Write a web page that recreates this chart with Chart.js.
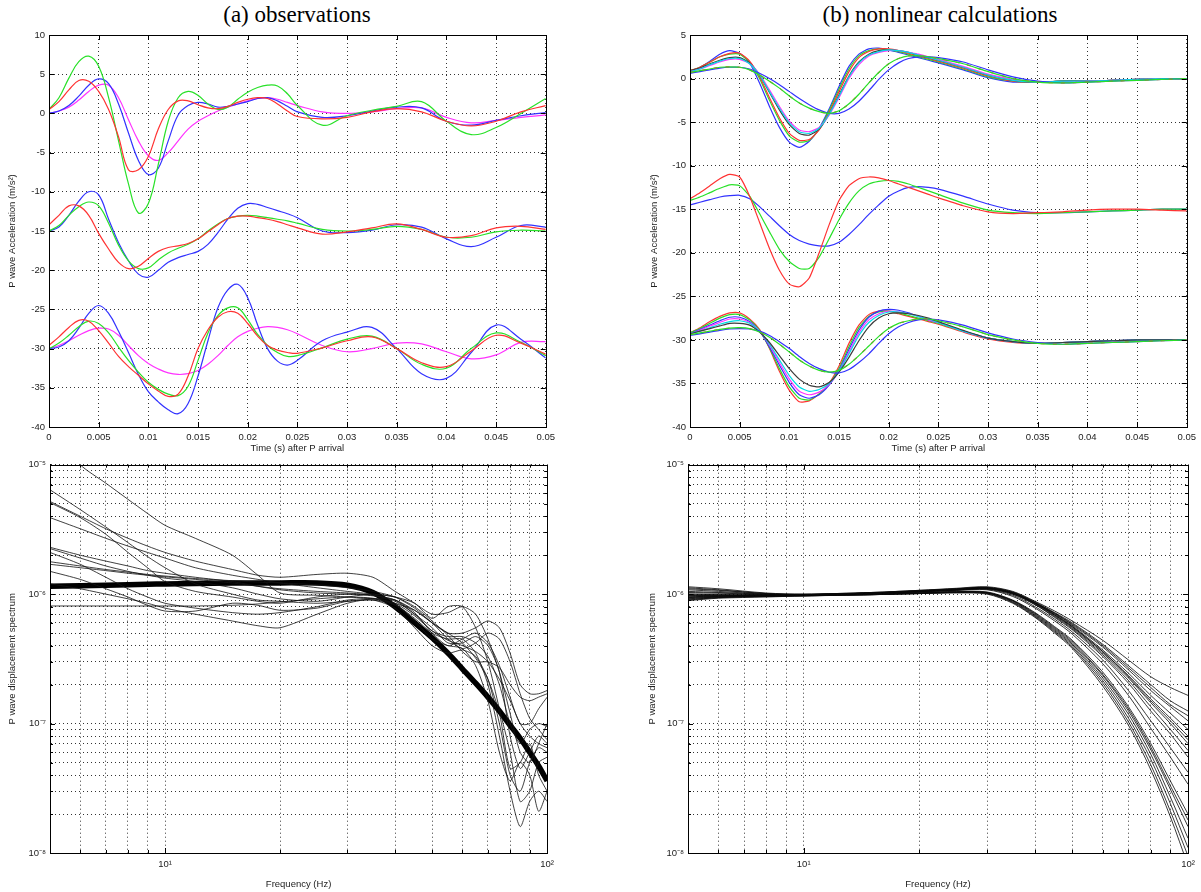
<!DOCTYPE html>
<html>
<head>
<meta charset="utf-8">
<script src="https://cdn.jsdelivr.net/npm/chart.js@4.4.0/dist/chart.umd.min.js"></script>
<style>
  body { margin: 0; background: #fff; width: 1201px; height: 892px; position: relative; overflow: hidden; }
  canvas { position: absolute; }
  .ttl { position: absolute; font-family: "Liberation Serif", "Times New Roman", serif; font-size: 23px; color: #000; white-space: nowrap; transform: translateX(-50%); }
</style>
</head>
<body>
<div class="ttl" style="left:297px;top:2px">(a) observations</div>
<div class="ttl" style="left:940px;top:2px">(b) nonlinear calculations</div>
<canvas id="accObs"></canvas>
<canvas id="accSim"></canvas>
<canvas id="specObs"></canvas>
<canvas id="specSim"></canvas>
<script>
// time samples (s) shared by all acceleration traces
const tGrid = [0, 0.001, 0.002, 0.003, 0.004, 0.005, 0.006, 0.007, 0.008, 0.009, 0.010, 0.011, 0.012, 0.013,
  0.014, 0.015, 0.016, 0.017, 0.018, 0.019, 0.020, 0.021, 0.022, 0.023, 0.024, 0.025,
  0.0275, 0.03, 0.0325, 0.035, 0.0375, 0.04, 0.0425, 0.045, 0.0475, 0.05];

// (a) observed accelerations, m/s^2 (three stations offset by 0, -15, -30)
const obsRed1 = [0.5, 1.5, 3.0, 4.2, 4.1, 2.8, 0.5, -3.0, -7.2, -7.2, -5.5, -2.0, 0.5, 1.6, 1.6, 1.1, 0.7, 0.6, 0.9, 1.4, 1.8, 2.0, 1.9, 1.2, 0.3, -0.4, -0.7, -0.5, 0.2, 0.6, 0.2, -1.0, -1.6, -1.0, 0.2, 1.0];
const obsGreen1 = [0.5, 2.0, 4.5, 6.6, 7.3, 6.0, 2.0, -3.5, -9.0, -12.7, -11.5, -6.5, -1.0, 2.0, 2.8, 2.3, 1.2, 0.5, 0.8, 1.8, 2.7, 3.3, 3.6, 3.5, 2.5, 1.0, -1.5, -0.3, 0.4, 0.9, 1.5, -1.0, -2.7, -1.8, 0.0, 1.9];
const obsBlue1 = [0.0, 0.3, 1.0, 2.2, 3.6, 4.4, 3.8, 1.2, -2.5, -6.0, -7.8, -7.0, -3.5, -0.2, 1.0, 1.4, 1.2, 0.8, 0.9, 1.2, 1.5, 1.9, 2.0, 1.6, 0.9, 0.2, -0.5, -0.3, 0.3, 0.8, 0.7, -1.0, -1.5, -0.9, -0.3, 0.1];
const obsMag1 = [0.0, 0.3, 0.8, 1.7, 2.8, 3.6, 3.6, 2.0, -0.8, -3.5, -5.4, -6.0, -5.0, -3.5, -2.0, -1.0, -0.3, 0.3, 0.8, 1.2, 1.6, 1.9, 2.0, 1.8, 1.4, 1.0, 0.2, 0.0, 0.2, 0.6, 0.7, -0.5, -1.2, -0.9, -0.5, -0.2];
const obsRed2 = [-14.2, -13.0, -11.8, -11.8, -13.0, -15.3, -17.3, -19.0, -19.8, -19.5, -18.5, -17.6, -17.1, -16.9, -16.6, -16.0, -15.1, -14.2, -13.4, -13.1, -13.1, -13.3, -13.5, -13.8, -14.2, -14.6, -15.4, -15.1, -14.6, -14.1, -14.8, -15.8, -15.6, -14.6, -14.4, -14.8];
const obsGreen2 = [-15.0, -14.3, -13.0, -11.9, -11.3, -11.8, -14.0, -16.8, -18.8, -19.8, -19.7, -18.7, -17.8, -17.2, -16.7, -16.0, -15.0, -14.1, -13.4, -13.1, -13.0, -13.1, -13.3, -13.5, -13.7, -14.0, -14.8, -15.0, -14.8, -14.4, -14.8, -15.8, -15.8, -15.1, -14.9, -15.0];
const obsBlue2 = [-15.0, -14.5, -13.0, -11.2, -10.0, -10.4, -13.5, -16.5, -18.8, -20.5, -20.9, -20.0, -19.0, -18.4, -18.0, -17.6, -16.7, -15.2, -13.5, -12.1, -11.5, -11.6, -12.0, -12.4, -12.8, -13.3, -15.0, -15.2, -14.9, -14.2, -14.5, -16.0, -17.0, -15.8, -14.3, -14.5];
const obsRed3 = [-29.6, -28.5, -27.3, -26.4, -26.5, -27.7, -29.3, -31.0, -32.3, -33.4, -34.5, -35.4, -36.1, -35.8, -33.5, -30.0, -27.6, -26.0, -25.3, -25.5, -26.8, -28.4, -29.6, -30.2, -30.5, -30.6, -29.9, -29.0, -28.5, -30.0, -31.8, -32.3, -30.3, -28.3, -29.3, -30.7];
const obsGreen3 = [-30.0, -29.3, -28.3, -27.2, -26.5, -26.8, -28.0, -29.8, -31.5, -33.0, -34.3, -35.2, -35.8, -36.0, -34.8, -31.5, -28.0, -25.8, -24.8, -24.8, -26.3, -28.2, -29.6, -30.5, -31.0, -30.9, -29.9, -28.8, -28.4, -30.0, -32.0, -32.5, -30.0, -28.0, -29.2, -30.9];
const obsBlue3 = [-30.0, -29.8, -29.0, -27.4, -25.5, -24.5, -25.5, -27.8, -30.5, -33.3, -35.5, -36.8, -37.8, -38.3, -37.0, -33.5, -29.0, -24.8, -22.5, -21.8, -23.5, -27.0, -30.0, -31.6, -32.1, -31.5, -29.0, -27.9, -27.3, -30.0, -33.2, -33.8, -30.5, -27.0, -28.8, -31.2];
const obsMag3 = [-30.0, -29.6, -29.0, -28.3, -27.7, -27.4, -27.5, -28.3, -29.6, -30.9, -31.9, -32.6, -33.1, -33.3, -33.2, -32.8, -32.0, -30.9, -29.6, -28.5, -27.8, -27.4, -27.2, -27.3, -27.6, -28.1, -29.6, -30.4, -30.0, -29.3, -29.4, -30.4, -31.3, -30.8, -29.2, -29.1];

// (b) calculated accelerations, m/s^2
const simBlue1 = [0.8, 1.3, 2.0, 2.8, 3.2, 2.9, 1.8, -0.5, -3.2, -5.6, -7.3, -7.9, -7.2, -5.7, -3.5, -0.9, 1.4, 2.8, 3.4, 3.5, 3.3, 3.0, 2.7, 2.4, 2.1, 1.8, 1.0, 0.1, -0.4, -0.4, -0.3, -0.3, -0.2, -0.1, -0.05, 0.0];
const simGreen1 = [0.9, 1.3, 1.9, 2.5, 2.8, 2.8, 1.9, 0.0, -2.5, -4.8, -6.6, -7.3, -7.1, -5.8, -3.7, -1.2, 1.1, 2.6, 3.2, 3.4, 3.3, 3.1, 2.8, 2.5, 2.2, 1.9, 1.1, 0.2, -0.3, -0.4, -0.3, -0.3, -0.2, -0.1, 0.0, 0.0];
const simRed1 = [0.9, 1.3, 1.9, 2.5, 2.9, 2.9, 2.0, 0.2, -2.2, -4.5, -6.3, -7.1, -7.0, -5.9, -3.9, -1.5, 0.8, 2.4, 3.1, 3.4, 3.4, 3.2, 2.9, 2.6, 2.3, 2.0, 1.2, 0.3, -0.3, -0.4, -0.3, -0.3, -0.2, -0.1, 0.0, 0.0];
const simBlack1 = [0.9, 1.2, 1.7, 2.1, 2.4, 2.4, 1.8, 0.4, -1.6, -3.6, -5.3, -6.3, -6.5, -5.8, -4.1, -1.9, 0.3, 1.9, 2.8, 3.2, 3.3, 3.2, 3.0, 2.7, 2.4, 2.1, 1.3, 0.4, -0.2, -0.4, -0.3, -0.3, -0.2, -0.1, 0.0, 0.0];
const simMag1 = [0.8, 1.1, 1.5, 1.9, 2.2, 2.2, 1.7, 0.5, -1.3, -3.2, -4.9, -5.9, -6.1, -5.6, -4.2, -2.2, 0.0, 1.6, 2.6, 3.0, 3.2, 3.2, 3.0, 2.8, 2.5, 2.2, 1.4, 0.5, -0.1, -0.4, -0.4, -0.3, -0.2, -0.1, 0.0, 0.0];
const simCyan1 = [0.8, 1.1, 1.6, 2.0, 2.3, 2.3, 1.7, 0.4, -1.5, -3.4, -5.1, -6.1, -6.3, -5.7, -4.1, -2.0, 0.2, 1.8, 2.7, 3.1, 3.3, 3.2, 3.0, 2.7, 2.4, 2.1, 1.3, 0.4, -0.2, -0.4, -0.3, -0.3, -0.2, -0.1, 0.0, 0.0];
const simSlowA1 = [0.7, 0.9, 1.1, 1.3, 1.35, 1.3, 1.0, 0.4, -0.3, -1.1, -2.0, -2.8, -3.4, -3.8, -4.0, -3.7, -2.9, -1.8, -0.5, 0.7, 1.7, 2.3, 2.6, 2.6, 2.5, 2.3, 1.7, 0.8, 0.0, -0.4, -0.5, -0.4, -0.3, -0.2, -0.1, 0.0];
const simSlowB1 = [0.6, 0.8, 1.0, 1.2, 1.3, 1.3, 1.1, 0.6, 0.0, -0.7, -1.5, -2.3, -3.0, -3.6, -4.0, -4.0, -3.5, -2.6, -1.4, -0.1, 1.0, 1.8, 2.3, 2.5, 2.5, 2.4, 1.9, 1.0, 0.2, -0.3, -0.5, -0.4, -0.3, -0.2, -0.1, 0.0];
const simRed2 = [-13.8, -13.1, -12.3, -11.5, -11.0, -11.3, -13.5, -16.5, -19.5, -22.0, -23.6, -23.9, -22.9, -20.0, -16.8, -14.0, -12.3, -11.5, -11.3, -11.4, -11.7, -12.1, -12.5, -12.9, -13.3, -13.7, -14.6, -15.3, -15.5, -15.4, -15.3, -15.1, -15.0, -15.0, -15.1, -15.2];
const simGreen2 = [-14.0, -13.6, -13.1, -12.6, -12.2, -12.3, -13.5, -15.5, -17.6, -19.6, -21.0, -21.8, -21.8, -20.5, -18.4, -16.2, -14.3, -12.9, -12.1, -11.8, -11.7, -11.8, -12.1, -12.5, -12.9, -13.3, -14.3, -15.1, -15.4, -15.5, -15.4, -15.3, -15.2, -15.1, -15.0, -15.0];
const simBlue2 = [-14.5, -14.2, -13.9, -13.6, -13.45, -13.4, -13.8, -14.7, -15.8, -16.9, -17.9, -18.6, -19.0, -19.2, -19.2, -18.8, -17.9, -16.8, -15.6, -14.5, -13.5, -12.9, -12.5, -12.4, -12.5, -12.7, -13.5, -14.4, -15.1, -15.4, -15.4, -15.3, -15.2, -15.1, -15.0, -15.0];
const simRed3 = [-29.2, -28.6, -27.9, -27.3, -26.9, -26.9, -27.6, -28.8, -31.0, -33.6, -35.8, -37.1, -37.0, -36.2, -35.0, -33.0, -30.4, -28.3, -27.1, -26.7, -26.7, -27.0, -27.3, -27.6, -27.9, -28.2, -29.1, -29.9, -30.3, -30.4, -30.3, -30.2, -30.1, -30.0, -30.0, -30.0];
const simGreen3 = [-29.2, -28.7, -28.1, -27.5, -27.1, -27.1, -27.7, -28.9, -30.9, -33.3, -35.4, -36.7, -36.9, -36.2, -35.1, -33.3, -30.8, -28.6, -27.3, -26.8, -26.7, -26.9, -27.2, -27.5, -27.8, -28.1, -29.0, -29.8, -30.2, -30.4, -30.3, -30.2, -30.1, -30.0, -30.0, -30.0];
const simBlue3 = [-29.3, -28.8, -28.3, -27.8, -27.4, -27.4, -27.9, -29.0, -30.8, -32.9, -34.9, -36.3, -36.7, -36.3, -35.2, -33.5, -31.1, -28.9, -27.4, -26.7, -26.5, -26.6, -26.9, -27.3, -27.7, -28.0, -29.0, -29.8, -30.2, -30.4, -30.3, -30.2, -30.1, -30.0, -30.0, -30.0];
const simMag3 = [-29.3, -28.9, -28.4, -28.0, -27.6, -27.6, -28.0, -29.0, -30.6, -32.6, -34.5, -35.9, -36.3, -36.0, -35.1, -33.6, -31.4, -29.2, -27.7, -27.0, -26.7, -26.8, -27.0, -27.3, -27.7, -28.0, -29.0, -29.8, -30.2, -30.4, -30.3, -30.2, -30.1, -30.0, -30.0, -30.0];
const simCyan3 = [-29.3, -29.0, -28.6, -28.2, -27.9, -27.8, -28.1, -29.0, -30.5, -32.3, -34.1, -35.4, -35.9, -35.7, -35.0, -33.6, -31.6, -29.5, -28.0, -27.2, -26.8, -26.8, -27.0, -27.3, -27.6, -28.0, -29.0, -29.8, -30.2, -30.4, -30.3, -30.2, -30.1, -30.0, -30.0, -30.0];
const simBlack3 = [-29.3, -29.0, -28.7, -28.4, -28.1, -28.1, -28.3, -29.1, -30.3, -31.8, -33.3, -34.5, -35.2, -35.4, -34.9, -33.7, -32.0, -30.1, -28.5, -27.5, -27.0, -26.9, -27.0, -27.2, -27.5, -27.9, -28.9, -29.8, -30.2, -30.4, -30.3, -30.2, -30.1, -30.0, -30.0, -30.0];
const simSlowA3 = [-29.4, -29.2, -29.0, -28.8, -28.65, -28.6, -28.7, -29.1, -29.7, -30.5, -31.4, -32.3, -33.0, -33.5, -33.7, -33.5, -32.8, -31.8, -30.7, -29.6, -28.7, -28.1, -27.8, -27.6, -27.6, -27.8, -28.5, -29.4, -30.0, -30.4, -30.5, -30.4, -30.3, -30.2, -30.1, -30.0];
const simSlowB3 = [-29.5, -29.3, -29.1, -28.9, -28.75, -28.7, -28.75, -29.0, -29.5, -30.2, -31.0, -31.9, -32.7, -33.3, -33.7, -33.8, -33.4, -32.6, -31.6, -30.4, -29.3, -28.5, -28.0, -27.7, -27.6, -27.7, -28.3, -29.2, -29.9, -30.3, -30.5, -30.4, -30.3, -30.2, -30.1, -30.0];

// (a) observed displacement spectra, in units of 1e-6
const freqObs = [5, 6, 7, 8, 9, 10, 12, 15, 17.5, 20, 25, 30, 35, 40, 45, 50, 55, 60, 65, 70, 75, 80, 85, 90, 95, 100];
const specObsMean = [1.15, 1.16, 1.17, 1.18, 1.19, 1.2, 1.21, 1.22, 1.22, 1.22, 1.22, 1.17, 1.03, 0.8, 0.6, 0.46, 0.35, 0.265, 0.205, 0.16, 0.125, 0.097, 0.077, 0.06, 0.047, 0.036];
const specObs1 = [20, 10, 7.2, 5.4, 4.2, 3.4, 2.7, 2.0, 1.4, 1.02, 0.98, 0.95, 0.92, 0.85, 0.75, 0.6, 0.45, 0.38, 0.42, 0.5, 0.45, 0.3, 0.17, 0.11, 0.09, 0.075];
const specObs2 = [5.2, 4.0, 3.2, 2.7, 2.35, 2.1, 1.8, 1.55, 1.4, 1.35, 1.42, 1.45, 1.35, 1.05, 0.85, 0.7, 0.72, 0.8, 0.7, 0.45, 0.25, 0.12, 0.06, 0.05, 0.07, 0.1];
const specObs3 = [5.1, 3.9, 2.9, 2.1, 1.6, 1.25, 1.05, 0.95, 0.88, 0.85, 0.95, 1.0, 0.98, 0.9, 0.7, 0.55, 0.42, 0.42, 0.47, 0.4, 0.25, 0.08, 0.045, 0.06, 0.08, 0.07];
const specObs4 = [6.4, 4.5, 3.3, 2.5, 1.95, 1.6, 1.2, 1.0, 0.9, 0.88, 0.85, 0.88, 0.9, 0.78, 0.55, 0.4, 0.35, 0.37, 0.33, 0.22, 0.1, 0.04, 0.03, 0.05, 0.065, 0.06];
const specObs5 = [3.9, 3.2, 2.7, 2.35, 2.1, 1.9, 1.6, 1.4, 1.3, 1.22, 1.12, 1.05, 1.0, 0.95, 0.8, 0.62, 0.48, 0.36, 0.3, 0.3, 0.27, 0.2, 0.16, 0.15, 0.16, 0.17];
const specObs6 = [2.3, 2.0, 1.8, 1.65, 1.52, 1.45, 1.35, 1.25, 1.15, 1.08, 1.02, 1.0, 0.97, 0.9, 0.72, 0.5, 0.4, 0.45, 0.5, 0.42, 0.28, 0.16, 0.1, 0.1, 0.13, 0.16];
const specObs7 = [2.25, 1.9, 1.65, 1.5, 1.4, 1.33, 1.25, 1.12, 1.0, 0.92, 0.88, 0.95, 1.0, 0.95, 0.85, 0.65, 0.8, 0.8, 0.55, 0.3, 0.13, 0.06, 0.025, 0.03, 0.05, 0.055];
const specObs8 = [2.1, 1.7, 1.35, 1.1, 0.95, 0.85, 0.78, 0.72, 0.7, 0.72, 0.8, 0.9, 0.92, 0.83, 0.65, 0.5, 0.45, 0.45, 0.35, 0.2, 0.08, 0.03, 0.016, 0.025, 0.03, 0.025];
const specObs9 = [1.78, 1.65, 1.55, 1.48, 1.42, 1.38, 1.32, 1.27, 1.24, 1.22, 1.18, 1.12, 1.05, 0.95, 0.78, 0.6, 0.5, 0.5, 0.55, 0.62, 0.55, 0.35, 0.2, 0.17, 0.17, 0.18];
const specObs10 = [1.7, 1.6, 1.52, 1.45, 1.4, 1.36, 1.3, 1.22, 1.15, 1.1, 1.05, 1.02, 0.98, 0.88, 0.7, 0.52, 0.47, 0.47, 0.42, 0.33, 0.2, 0.1, 0.07, 0.09, 0.1, 0.095];
const specObs11 = [0.81, 0.81, 0.81, 0.81, 0.81, 0.81, 0.81, 0.82, 0.84, 0.87, 0.92, 0.95, 0.93, 0.85, 0.68, 0.52, 0.44, 0.4, 0.36, 0.3, 0.22, 0.15, 0.1, 0.08, 0.07, 0.065];
const specObs12 = [1.2, 1.1, 1.0, 0.92, 0.85, 0.78, 0.7, 0.62, 0.57, 0.55, 0.7, 0.85, 0.92, 0.9, 0.75, 0.6, 0.5, 0.42, 0.32, 0.22, 0.12, 0.045, 0.05, 0.07, 0.04, 0.03];
const specObs13 = [1.5, 1.3, 1.1, 0.95, 0.82, 0.74, 0.74, 0.85, 0.82, 0.75, 0.78, 0.88, 0.9, 0.82, 0.62, 0.45, 0.4, 0.38, 0.28, 0.15, 0.06, 0.036, 0.05, 0.04, 0.021, 0.03];

// (b) calculated displacement spectra, in units of 1e-6
const freqSim = [5, 6, 8, 10, 15, 20, 25, 30, 35, 40, 45, 50, 60, 70, 80, 90, 100];
const specSim1 = [1.14, 1.1, 1.02, 1.0, 1.03, 1.07, 1.11, 1.14, 1.05, 0.88, 0.74, 0.62, 0.44, 0.31, 0.23, 0.19, 0.165];
const specSim2 = [1.1, 1.07, 1.01, 1.0, 1.03, 1.07, 1.1, 1.13, 1.04, 0.87, 0.72, 0.6, 0.41, 0.28, 0.2, 0.15, 0.125];
const specSim3 = [1.05, 1.03, 1.0, 0.99, 1.02, 1.06, 1.1, 1.12, 1.03, 0.86, 0.71, 0.58, 0.39, 0.26, 0.18, 0.135, 0.105];
const specSim4 = [1.0, 1.0, 0.99, 0.99, 1.02, 1.06, 1.09, 1.12, 1.02, 0.85, 0.7, 0.57, 0.37, 0.245, 0.165, 0.12, 0.09];
const specSim5 = [0.97, 0.98, 0.98, 0.99, 1.02, 1.05, 1.09, 1.11, 1.02, 0.85, 0.69, 0.56, 0.36, 0.235, 0.155, 0.11, 0.08];
const specSim6 = [0.94, 0.96, 0.98, 0.98, 1.01, 1.05, 1.08, 1.11, 1.01, 0.84, 0.68, 0.55, 0.35, 0.225, 0.145, 0.1, 0.07];
const specSim7 = [0.92, 0.95, 0.97, 0.98, 1.01, 1.05, 1.08, 1.1, 1.0, 0.83, 0.67, 0.54, 0.34, 0.215, 0.135, 0.09, 0.062];
const specSim8 = [0.9, 0.94, 0.97, 0.98, 1.01, 1.04, 1.07, 1.1, 1.0, 0.83, 0.66, 0.53, 0.33, 0.205, 0.125, 0.083, 0.055];
const specSim9 = [1.12, 1.08, 1.01, 0.99, 1.02, 1.06, 1.09, 1.12, 1.03, 0.86, 0.71, 0.59, 0.4, 0.27, 0.19, 0.14, 0.115];
const specSim10 = [0.95, 0.97, 0.98, 0.99, 1.02, 1.05, 1.08, 1.11, 1.02, 0.85, 0.69, 0.56, 0.36, 0.23, 0.15, 0.105, 0.075];
const specSim11 = [1.08, 1.05, 1.0, 0.99, 1.02, 1.05, 1.08, 1.09, 0.98, 0.8, 0.64, 0.51, 0.31, 0.18, 0.105, 0.065, 0.042];
const specSim12 = [1.03, 1.02, 0.99, 0.99, 1.01, 1.04, 1.07, 1.08, 0.96, 0.78, 0.62, 0.49, 0.29, 0.165, 0.092, 0.055, 0.034];
const specSim13 = [1.0, 0.99, 0.98, 0.98, 1.0, 1.03, 1.05, 1.04, 0.9, 0.72, 0.56, 0.44, 0.25, 0.135, 0.07, 0.036, 0.02];
const specSim14 = [0.97, 0.97, 0.97, 0.98, 1.0, 1.02, 1.04, 1.03, 0.89, 0.7, 0.54, 0.42, 0.235, 0.125, 0.063, 0.031, 0.016];
const specSim15 = [0.95, 0.96, 0.97, 0.97, 0.99, 1.02, 1.04, 1.02, 0.88, 0.69, 0.53, 0.41, 0.225, 0.118, 0.058, 0.027, 0.013];
const specSim16 = [0.93, 0.95, 0.96, 0.97, 0.99, 1.01, 1.03, 1.02, 0.87, 0.68, 0.52, 0.4, 0.215, 0.11, 0.053, 0.024, 0.011];
const specSim17 = [0.91, 0.94, 0.96, 0.97, 0.99, 1.01, 1.03, 1.01, 0.86, 0.67, 0.51, 0.39, 0.205, 0.103, 0.048, 0.021, 0.0095];
const specSim18 = [0.89, 0.93, 0.95, 0.97, 0.99, 1.01, 1.02, 1.0, 0.85, 0.66, 0.5, 0.38, 0.195, 0.097, 0.044, 0.019, 0.008];
const specSim19 = [0.98, 0.98, 0.97, 0.98, 1.0, 1.02, 1.04, 1.03, 0.89, 0.71, 0.55, 0.43, 0.24, 0.13, 0.066, 0.033, 0.018];

const RED = 'rgb(255,50,50)', GREEN = 'rgb(40,225,40)', BLUE = 'rgb(50,50,255)',
  MAG = 'rgb(255,50,255)', CYAN = 'rgb(0,220,230)', BLACK = 'rgb(60,60,60)';

Chart.defaults.font.family = '"Liberation Sans", Arial, sans-serif';
Chart.defaults.font.size = 9.5;
Chart.defaults.color = '#222';

const SUP = { '-': '⁻', '0': '⁰', '1': '¹', '2': '²', '3': '³', '4': '⁴', '5': '⁵', '6': '⁶', '7': '⁷', '8': '⁸', '9': '⁹' };
function powLabel(v) {
  const e = Math.log10(v);
  if (Math.abs(e - Math.round(e)) > 1e-6) return '';
  return '10' + String(Math.round(e)).split('').map(ch => SUP[ch]).join('');
}

function pts(xs, ys, k) {
  return xs.map((x, i) => ({ x: x, y: ys[i] * (k || 1) }));
}

// matlab style box with inward tick marks
const matlabBox = {
  id: 'matlabBox',
  afterDraw(chart) {
    const { ctx, chartArea: a } = chart;
    const sx = chart.scales.x, sy = chart.scales.y;
    ctx.save();
    ctx.strokeStyle = '#000';
    ctx.lineWidth = 1;
    ctx.setLineDash([]);
    ctx.beginPath();
    sx.ticks.forEach(t => {
      const p = Math.round(sx.getPixelForValue(t.value)) + 0.5;
      const len = t.label ? 5 : 3;
      ctx.moveTo(p, a.bottom); ctx.lineTo(p, a.bottom - len);
      ctx.moveTo(p, a.top); ctx.lineTo(p, a.top + len);
    });
    sy.ticks.forEach(t => {
      const p = Math.round(sy.getPixelForValue(t.value)) + 0.5;
      const len = t.label ? 5 : 3;
      ctx.moveTo(a.left, p); ctx.lineTo(a.left + len, p);
      ctx.moveTo(a.right, p); ctx.lineTo(a.right - len, p);
    });
    ctx.stroke();
    ctx.strokeRect(Math.round(a.left) + 0.5, Math.round(a.top) + 0.5,
      Math.round(a.right - a.left), Math.round(a.bottom - a.top));
    ctx.restore();
  }
};

const GRID = { color: 'rgba(0,0,0,0.8)', lineWidth: 1, drawTicks: false };
const BORDER = { display: true, color: '#000', dash: [1, 3] };

function makeChart(id, box, area, datasets, xScale, yScale) {
  const c = document.getElementById(id);
  c.width = box.w; c.height = box.h;
  c.style.left = box.x + 'px'; c.style.top = box.y + 'px';
  c.style.width = box.w + 'px'; c.style.height = box.h + 'px';
  xScale.afterFit = s => { s.height = box.y + box.h - area.bottom; };
  yScale.afterFit = s => { s.width = area.left - box.x; };
  return new Chart(c, {
    type: 'line',
    data: { datasets: datasets },
    options: {
      responsive: false,
      animation: false,
      layout: { padding: { top: area.top - box.y, right: box.x + box.w - area.right, left: 0, bottom: 0 } },
      plugins: { legend: { display: false }, tooltip: { enabled: false } },
      elements: { point: { radius: 0 } },
      scales: { x: xScale, y: yScale }
    },
    plugins: [matlabBox]
  });
}

function accLines(list, tension) {
  return list.map(([vals, color, dash]) => ({
    data: pts(tGrid, vals), borderColor: color, borderWidth: 1.2, tension: tension,
    borderDash: dash || [], pointRadius: 0
  }));
}

function timeAxis() {
  return {
    type: 'linear', min: 0, max: 0.05,
    ticks: { stepSize: 0.005, padding: 5, autoSkip: false, maxRotation: 0, callback: v => String(+v.toFixed(3)) },
    grid: GRID, border: BORDER,
    title: { display: true, text: 'Time (s) after P arrival', padding: { top: 0, bottom: 3 } }
  };
}

function accAxis(max, pad) {
  return {
    type: 'linear', min: -40, max: max,
    ticks: { stepSize: 5, padding: 4, autoSkip: false },
    grid: GRID, border: BORDER,
    title: { display: true, text: 'P wave Acceleration (m/s²)', padding: { top: pad, bottom: 0 } }
  };
}

function freqAxis() {
  return {
    type: 'logarithmic', min: 5, max: 100,
    afterBuildTicks: s => { s.ticks = [5, 6, 7, 8, 9, 10, 20, 30, 40, 50, 60, 70, 80, 90, 100].map(v => ({ value: v })); },
    ticks: { padding: 6, autoSkip: false, maxRotation: 0, callback: v => powLabel(v) },
    grid: GRID, border: BORDER,
    title: { display: true, text: 'Frequency (Hz)', padding: { top: 0, bottom: 2 } }
  };
}

function specAxis(pad) {
  return {
    type: 'logarithmic', min: 1e-8, max: 1e-5,
    afterBuildTicks: s => {
      const t = [];
      for (let e = -8; e < -5; e++) for (let m = 1; m < 10; m++) t.push({ value: m * Math.pow(10, e) });
      t.push({ value: 1e-5 });
      s.ticks = t;
    },
    ticks: { padding: 4, autoSkip: false, callback: v => powLabel(v) },
    grid: GRID, border: BORDER,
    title: { display: true, text: 'P wave displacement spectrum', padding: { top: pad, bottom: 0 } }
  };
}

makeChart('accObs', { x: 0, y: 25, w: 560, h: 432 }, { left: 49, right: 548, top: 35, bottom: 427 },
  accLines([
    [obsRed1, RED], [obsGreen1, GREEN], [obsBlue1, BLUE], [obsMag1, MAG],
    [obsRed2, RED], [obsGreen2, GREEN], [obsBlue2, BLUE],
    [obsRed3, RED], [obsGreen3, GREEN], [obsBlue3, BLUE], [obsMag3, MAG]
  ], 0.4),
  timeAxis(), accAxis(10, 7));

makeChart('accSim', { x: 640, y: 25, w: 561, h: 432 }, { left: 690, right: 1188, top: 35, bottom: 427 },
  accLines([
    [simSlowA1, GREEN], [simSlowA1, RED, [4, 8]], [simSlowB1, BLUE],
    [simCyan1, CYAN], [simMag1, MAG], [simBlack1, BLACK], [simRed1, RED], [simGreen1, GREEN], [simBlue1, BLUE],
    [simRed2, RED], [simGreen2, GREEN], [simBlue2, BLUE],
    [simSlowA3, GREEN], [simSlowA3, RED, [4, 8]], [simSlowB3, BLUE],
    [simBlack3, BLACK], [simCyan3, CYAN], [simMag3, MAG], [simBlue3, BLUE], [simGreen3, GREEN], [simRed3, RED]
  ], 0.2),
  timeAxis(), accAxis(5, 9));

const obsThin = [specObs1, specObs2, specObs3, specObs4, specObs5, specObs6, specObs7,
  specObs8, specObs9, specObs10, specObs11, specObs12, specObs13];
const obsSpecSets = obsThin.map(v => ({
  data: pts(freqObs, v, 1e-6), borderColor: 'rgba(20,20,20,0.9)', borderWidth: 0.9, tension: 0.25, pointRadius: 0
}));
obsSpecSets.push({ data: pts(freqObs, specObsMean, 1e-6), borderColor: '#000', borderWidth: 5.5, tension: 0.3, pointRadius: 0 });

makeChart('specObs', { x: 0, y: 455, w: 560, h: 437 }, { left: 50, right: 548, top: 463, bottom: 853 },
  obsSpecSets, freqAxis(), specAxis(7));

const simThin = [specSim1, specSim2, specSim3, specSim4, specSim5, specSim6, specSim7, specSim8, specSim9,
  specSim10, specSim11, specSim12, specSim13, specSim14, specSim15, specSim16, specSim17, specSim18, specSim19];
const simSpecSets = simThin.map(v => ({
  data: pts(freqSim, v, 1e-6), borderColor: 'rgba(10,10,10,0.9)', borderWidth: 0.9, tension: 0.3, pointRadius: 0
}));

makeChart('specSim', { x: 640, y: 455, w: 561, h: 437 }, { left: 688, right: 1188, top: 463, bottom: 853 },
  simSpecSets, freqAxis(), specAxis(7));
</script>
</body>
</html>
